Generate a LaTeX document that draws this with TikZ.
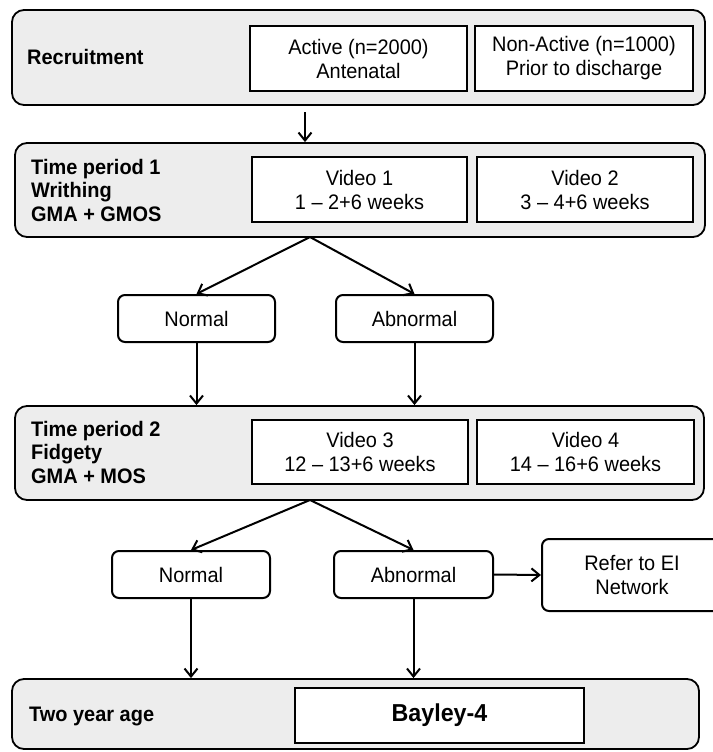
\documentclass[tikz,border=0pt]{standalone}
\usepackage{fontspec}
\setmainfont{Liberation Sans}[FakeStretch=0.95]
\usetikzlibrary{arrows.meta}
\begin{document}
\begin{tikzpicture}[x=1pt,y=-1pt,
    every node/.style={font=\fontsize{21}{24}\selectfont, inner sep=0pt},
    panel/.style={draw, rounded corners=12pt, fill=black!7, line width=1.8pt},
    vidbox/.style={draw, fill=white, line width=2.6pt, align=center},
    outcome/.style={draw, fill=white, rounded corners=7pt, line width=2pt, align=center},
    stage/.style={anchor=west, align=left, font=\fontsize{21}{23.5}\selectfont\bfseries},
    arr/.style={-{Straight Barb[length=8pt,width=13pt]}, line width=2pt}]
    \useasboundingbox (0,0) rectangle (712,752);
    \node[panel, minimum width=693pt, minimum height=95pt] (rec) at (358.5,57.5) {};
    \node[stage] (recl) at (27,57) {Recruitment};
    \node[vidbox, minimum width=217pt, minimum height=65pt] (act) at (358.5,58.5) {Active (n=2000)\\Antenatal};
    \node[vidbox, minimum width=218pt, minimum height=65pt] (nact) at (584,58.5) {Non-Active (n=1000)\\Prior to discharge};
    \node[panel, minimum width=690pt, minimum height=94pt] (tp1) at (360,190) {};
    \node[stage] (tp1l) at (31,190) {Time period 1\\Writhing\\GMA + GMOS};
    \node[vidbox, minimum width=215pt, minimum height=65pt] (v1) at (359.5,189.5) {Video 1\\1 – 2+6 weeks};
    \node[vidbox, minimum width=216pt, minimum height=65pt] (v2) at (585,189.5) {Video 2\\3 – 4+6 weeks};
    \node[outcome, minimum width=157pt, minimum height=47pt] (norm1) at (196.5,318.5) {Normal};
    \node[outcome, minimum width=157pt, minimum height=47pt] (abn1) at (414.5,318.5) {Abnormal};
    \node[panel, minimum width=689pt, minimum height=94pt] (tp2) at (359.5,453) {};
    \node[stage] (tp2l) at (31,452) {Time period 2\\Fidgety\\GMA + MOS};
    \node[vidbox, minimum width=216pt, minimum height=64pt] (v3) at (360,452) {Video 3\\12 – 13+6 weeks};
    \node[vidbox, minimum width=217pt, minimum height=64pt] (v4) at (585.5,452) {Video 4\\14 – 16+6 weeks};
    \node[outcome, minimum width=158pt, minimum height=47pt] (norm2) at (191,574.5) {Normal};
    \node[outcome, minimum width=159pt, minimum height=47pt] (abn2) at (413.5,574.5) {Abnormal};
    \node[outcome, minimum width=180pt, minimum height=72pt] (ei) at (632,575) {Refer to EI\\Network};
    \node[panel, minimum width=687pt, minimum height=70pt] (age) at (355.5,714) {};
    \node[stage] (agel) at (29,716) {Two year age};
    \node[vidbox, minimum width=289pt, minimum height=55pt, font=\fontsize{24.5}{28}\selectfont\bfseries] (bay) at (439.5,715.5) {Bayley-4};
    \coordinate (a0) at (305,112);
    \coordinate (b1) at (310,237);
    \coordinate (b2) at (310,500);
    \draw[arr] (a0) -- (a0 |- tp1.north);
    \draw[arr] (b1) -- (norm1.north);
    \draw[arr] (b1) -- (abn1.north);
    \draw[arr] (norm1.south) -- (norm1.south |- tp2.north);
    \draw[arr] (abn1.south) -- (abn1.south |- tp2.north);
    \draw[arr] (b2) -- (norm2.north);
    \draw[arr] (b2) -- (abn2.north);
    \draw[arr] (abn2.east) -- (ei.west);
    \draw[arr] (norm2.south) -- (norm2.south |- age.north);
    \draw[arr] (abn2.south) -- (abn2.south |- age.north);
\end{tikzpicture}
\end{document}
